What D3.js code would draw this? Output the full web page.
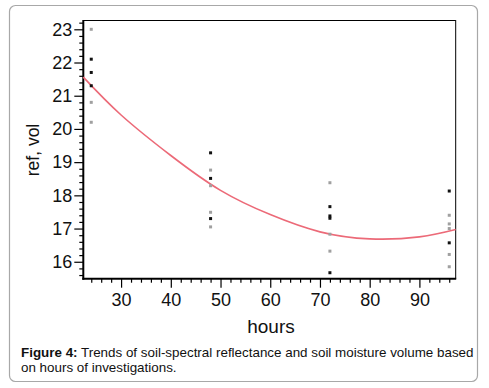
<!DOCTYPE html>
<html><head><meta charset="utf-8">
<script src="https://cdn.jsdelivr.net/npm/d3@7"></script>
<style>html,body{margin:0;padding:0;background:#fff;}svg{display:block;}</style>
</head><body>
<script>
// Data
const hours = [24,24,24,24,24,24, 48,48,48,48,48,48,48, 72,72,72,72,72,72,72, 96,96,96,96,96,96,96];
const refVol = [23.0,22.1,21.7,21.3,20.8,20.2, 19.28,18.76,18.51,18.29,17.49,17.30,17.05, 18.38,17.66,17.38,17.31,16.83,16.32,15.67, 18.13,17.40,17.14,17.0,16.57,16.22,15.85];
const shade = ["g","b","b","b","g","g", "b","g","b","g","g","b","g", "g","b","b","b","g","g","b", "b","g","g","g","b","g","g"];
const fitHours = [22.4,30,40,50,60,70,80,90,97.3];
const fitValues = [21.56,20.42,19.2,18.15,17.42,16.9,16.69,16.75,16.97];
const xTicks = [30,40,50,60,70,80,90];
const yTicks = [16,17,18,19,20,21,22,23];

const W=489,H=388;
const svg=d3.select("body").append("svg").attr("width",W).attr("height",H);
svg.append("rect").attr("x",9.5).attr("y",5.5).attr("width",468).attr("height",376).attr("rx",6)
  .attr("fill","#fff").attr("stroke","#a8a8a8").attr("stroke-width",1.2);

const L=83.3,R=455.7,T=20,B=278.7;
const x=d3.scaleLinear().domain([22.4,97.3]).range([L,R]);
const y=d3.scaleLinear().domain([15.49,23.28]).range([B,T]);

const font="Liberation Sans, Arial, sans-serif";
// frame
svg.append("line").attr("x1",L).attr("x2",R).attr("y1",T+0.5).attr("y2",T+0.5).attr("stroke","#000").attr("stroke-width",1);
svg.append("line").attr("x1",R).attr("x2",R).attr("y1",T).attr("y2",B).attr("stroke","#000").attr("stroke-width",1);

// minor ticks
const xMinor=d3.range(24,97,2).filter(v=>v%10!==0);
const yMinor=d3.range(15.6,23.25,0.2).map(v=>+v.toFixed(1)).filter(v=>Math.abs(v-Math.round(v))>0.01);
const ax=svg.append("g").attr("transform",`translate(0,${B})`)
  .call(d3.axisBottom(x).tickValues(xMinor).tickSize(4).tickFormat(""));
ax.select(".domain").remove();
const ay=svg.append("g").attr("transform",`translate(${L},0)`)
  .call(d3.axisLeft(y).tickValues(yMinor).tickSize(4).tickFormat(""));
ay.select(".domain").remove();

const gx=svg.append("g").attr("transform",`translate(0,${B})`)
  .call(d3.axisBottom(x).tickValues(xTicks).tickSize(9).tickPadding(6).tickSizeOuter(0));
gx.select(".domain").attr("stroke-width",2).attr("d",`M${L-1},0H${R+0.5}`);
gx.selectAll("text").attr("font-family",font).attr("font-size",18).attr("fill","#111");
const gy=svg.append("g").attr("transform",`translate(${L},0)`)
  .call(d3.axisLeft(y).tickValues(yTicks).tickSize(9).tickPadding(2).tickSizeOuter(0));
gy.select(".domain").attr("stroke-width",2).attr("d",`M0,${T}V${B+1}`);
gy.selectAll("text").attr("font-family",font).attr("font-size",18).attr("fill","#111");
svg.selectAll(".tick line").attr("stroke","#000").attr("stroke-width",1.2);

// fit curve
const line=d3.line().x((d,i)=>x(fitHours[i])).y(d=>y(d)).curve(d3.curveNatural);
svg.append("path").attr("d",line(fitValues)).attr("fill","none").attr("stroke","#ec6a78").attr("stroke-width",1.6);

// points
svg.append("g").selectAll("rect").data(refVol).join("rect")
  .attr("x",(d,i)=>x(hours[i])-1.5).attr("y",d=>y(d)-1.5).attr("width",3).attr("height",3)
  .attr("fill",(d,i)=>shade[i]==="b"?"#111":"#a0a0a0");

// axis titles
svg.append("text").attr("x",271).attr("y",333).attr("text-anchor","middle")
  .attr("font-family",font).attr("font-size",19).attr("fill","#111").text("hours");
svg.append("text").attr("transform","translate(39,150) rotate(-90)").attr("text-anchor","middle")
  .attr("font-family",font).attr("font-size",17.5).attr("fill","#111").text("ref, vol");

// caption
const cap=svg.append("text").attr("x",21).attr("y",357).attr("font-family",font).attr("font-size",13.4).attr("fill","#111");
cap.append("tspan").attr("font-weight","bold").text("Figure 4:");
cap.append("tspan").text(" Trends of soil-spectral reflectance and soil moisture volume based");
svg.append("text").attr("x",21).attr("y",371.5).attr("font-family",font).attr("font-size",13.4).attr("fill","#111")
  .text("on hours of investigations.");
</script>
</body></html>
